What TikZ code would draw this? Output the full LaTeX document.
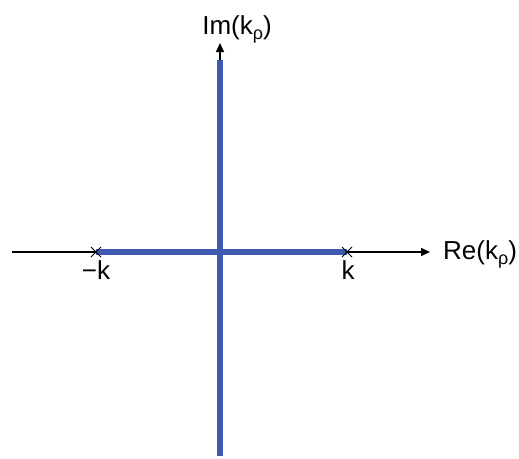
\documentclass[tikz,border=0pt]{standalone}
\usepackage{fontspec}
\setmainfont{Liberation Sans}
\usetikzlibrary{arrows.meta,calc}
\definecolor{cutblue}{RGB}{63,88,176}
\newcommand{\mysubrho}{\raisebox{-5pt}{\fontsize{18}{20}\selectfont ρ}}
\begin{document}
\begin{tikzpicture}[x=1pt,y=-1pt,
  axis/.style={line width=1.5pt,-{Triangle[length=9pt,width=8pt]}},
  cut/.style={cutblue,line width=6pt},
  lbl/.style={font=\fontsize{26}{30}\selectfont,inner sep=0pt},
  crs/.style={line width=1pt}]
\useasboundingbox (0,0) rectangle (519,458);
\coordinate (W) at (12,252);
\coordinate (E) at (430,252);
\coordinate (S) at (220,456);
\coordinate (N) at (220,43);
\coordinate (Kp) at (347,252);
\coordinate (Km) at (96,252);
\coordinate (Top) at (220,60);
\coordinate (Bot) at (220,456);
\draw[axis] (W) -- (E);
\draw[axis] (S) -- (N);
\draw[cut] (Km) -- (Kp);
\draw[cut] (Bot) -- (Top);
\draw[crs] ($(Km)+(-5,-5)$) -- ($(Km)+(5,5)$) ($(Km)+(-5,5)$) -- ($(Km)+(5,-5)$);
\draw[crs] ($(Kp)+(-5,-5)$) -- ($(Kp)+(5,5)$) ($(Kp)+(-5,5)$) -- ($(Kp)+(5,-5)$);
\node[lbl,anchor=base] (lkm) at (96,279) {−k};
\node[lbl,anchor=base] (lkp) at (348,279) {k};
\node[lbl,anchor=base west] (re) at (443,259) {Re(k\mysubrho)};
\node[lbl,anchor=base] (im) at (237,34) {Im(k\mysubrho)};
\end{tikzpicture}
\end{document}
